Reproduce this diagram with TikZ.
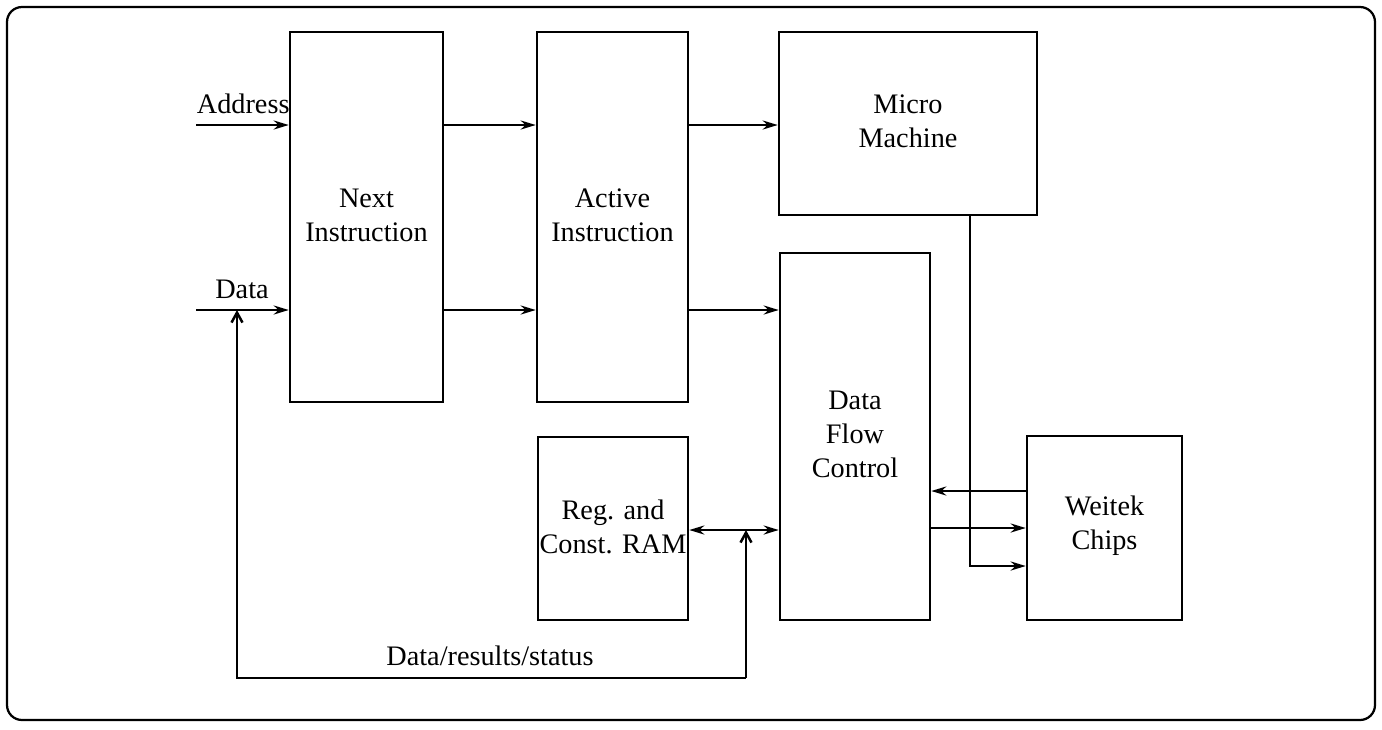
\documentclass[tikz,border=0pt]{standalone}
\usepackage{fontspec}
\setmainfont{Liberation Serif}
\usetikzlibrary{arrows.meta,fit}

\begin{document}
\begin{tikzpicture}[x=0.4pt,y=-0.4pt,
     		every node/.style={font=\fontsize{11.3}{13.6}\selectfont},
     		box/.style={draw,line width=1pt,inner sep=0pt},
     		boxtxt/.style={align=center,yshift=0.8pt},
     		arr/.style={line width=1pt,-{Stealth[length=6pt,width=3.6pt]}},
     		dblarr/.style={line width=1pt,{Stealth[length=6pt,width=3.6pt]}-{Stealth[length=6pt,width=3.6pt]}},
     		barb/.style={line width=1pt,-{Straight Barb[length=4pt,width=4.4pt]}}]
     		\useasboundingbox (0,0) rectangle (1382,729);
     		\draw[line width=0.9pt,rounded corners=6pt] (7,7) rectangle (1375,720);
     		\node[box,fit={(290,32)(443,402)},label={[boxtxt]center:Next\\Instruction}] (next) {};
     		\node[box,fit={(537,32)(688,402)},label={[boxtxt]center:Active\\Instruction}] (active) {};
     		\node[box,fit={(779,32)(1037,215)},label={[boxtxt]center:Micro\\Machine}] (micro) {};
     		\node[box,fit={(780,253)(930,620)},label={[boxtxt]center:Data\\Flow\\Control}] (dfc) {};
     		\node[box,fit={(538,437)(688,620)},label={[boxtxt]center:Reg. and\\Const. RAM}] (ram) {};
     		\node[box,fit={(1027,436)(1182,620)},label={[boxtxt]center:Weitek\\Chips}] (weitek) {};
     		\coordinate (addr) at (196,125);
     		\coordinate (datain) at (196,310);
     		\node[anchor=base east,inner sep=0pt] (addrtxt) at (290,113) {Address};
     		\node[anchor=base,inner sep=0pt] (datatxt) at (242,298) {Data};
     		\draw[arr] (addr) -- (addr -| next.west);
     		\draw[arr] (datain) -- (datain -| next.west);
     		\foreach \p in {addr,datain} \draw[arr] (\p -| next.east) -- (\p -| active.west);
     		\draw[arr] (addr -| active.east) -- (addr -| micro.west);
     		\draw[arr] (datain -| active.east) -- (datain -| dfc.west);
     		\coordinate (ramlink) at (746,530);
     		\draw[dblarr] (ram.east |- ramlink) -- (dfc.west |- ramlink);
     		\coordinate (busr) at (746,678);
     		\coordinate (busl) at (237,678);
     		\coordinate (datajoin) at (237,310);
     		\draw[barb] (busr) -- (ramlink);
     		\draw[barb] (busr) -- (busl) -- (datajoin);
     		\node[anchor=base,inner sep=0pt] (bustxt) at (490,665) {Data/results/status};
     		\coordinate (wback) at (1027,491);
     		\coordinate (wout) at (1027,528);
     		\coordinate (mmctl) at (970,566);
     		\draw[arr] (weitek.west |- wback) -- (dfc.east |- wback);
     		\draw[arr] (dfc.east |- wout) -- (weitek.west |- wout);
     		\draw[arr] (micro.south -| mmctl) -- (mmctl) -- (weitek.west |- mmctl);
		\end{tikzpicture}
\end{document}
